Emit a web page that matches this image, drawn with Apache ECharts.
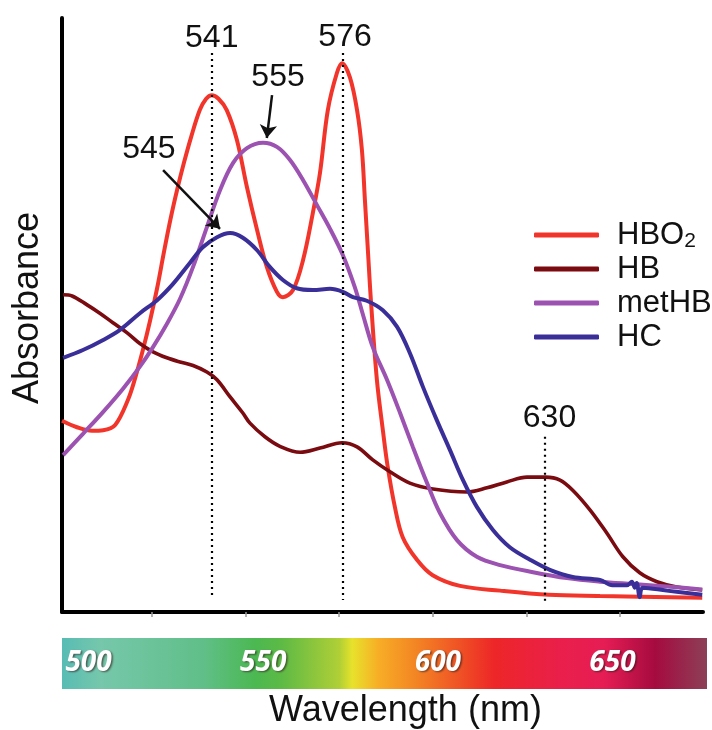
<!DOCTYPE html>
<html>
<head>
<meta charset="utf-8">
<title>Hemoglobin absorbance spectra</title>
<script src="https://cdn.jsdelivr.net/npm/echarts@6/dist/echarts.min.js"></script>
<style>
  html, body { margin: 0; padding: 0; background: #fff; }
  #chart { width: 712px; height: 730px; }
</style>
</head>
<body>
<div id="chart"></div>
<script>
// Absorbance spectra, [wavelength nm, relative absorbance]
const hbo2 = [
  [501,0.322],[505,0.311],[509,0.305],[512,0.306],[515.2,0.315],[518.6,0.357],[520.5,0.393],
  [522.6,0.441],[524.5,0.490],[526.4,0.545],[528.2,0.605],[530,0.662],[531.8,0.712],[533.6,0.757],
  [535.5,0.800],[537.8,0.845],[539.5,0.864],[541,0.870],[542.8,0.864],[545,0.845],[547.7,0.795],
  [550.4,0.715],[553.1,0.643],[555.7,0.581],[558.4,0.539],[560,0.530],[562.7,0.542],[565.4,0.593],
  [568,0.672],[569.9,0.739],[572,0.845],[574.4,0.907],[575.8,0.924],[577.9,0.900],[579.8,0.845],
  [581.1,0.778],[581.9,0.694],[582.7,0.609],[583.5,0.525],[585.1,0.391],[586.7,0.306],[588,0.244],
  [589.9,0.177],[592,0.126],[595.8,0.088],[600,0.062],[607.3,0.044],[618,0.036],[631,0.029],
  [644.7,0.027],[672,0.024]
];
const hb = [
  [501.3,0.534],[503.7,0.532],[507.7,0.517],[511.1,0.503],[514.6,0.487],[518.4,0.470],[521.8,0.452],
  [525.3,0.438],[529,0.428],[532.5,0.421],[536,0.415],[539.7,0.404],[542.4,0.391],[545.9,0.362],
  [549.3,0.335],[551.2,0.318],[555.2,0.295],[559.2,0.279],[564.6,0.269],[569.9,0.276],[575.8,0.285],
  [579.8,0.278],[584,0.256],[588.6,0.236],[593.9,0.217],[600.1,0.207],[609.1,0.202],[614.5,0.209],
  [619.8,0.219],[625.2,0.227],[630.2,0.227],[634,0.222],[637.4,0.205],[642,0.172],[646.5,0.133],
  [650.8,0.093],[655.3,0.066],[659.9,0.051],[665.2,0.042],[672,0.037]
];
const methb = [
  [501.3,0.264],[506.6,0.300],[512,0.337],[517.3,0.376],[521.8,0.413],[525.3,0.446],[529,0.485],
  [532.5,0.527],[536,0.581],[539.7,0.648],[543.2,0.710],[546.7,0.756],[550.4,0.781],[554.7,0.790],
  [558.4,0.783],[561.9,0.761],[565.4,0.727],[569.1,0.685],[572.6,0.645],[576,0.601],[579.2,0.547],
  [581.4,0.500],[584,0.446],[587.8,0.391],[591.3,0.335],[594.7,0.278],[598.5,0.217],[601.9,0.167],
  [606.5,0.121],[611.8,0.093],[618,0.079],[626.8,0.067],[635.8,0.057],[644.7,0.051],[653.5,0.047],
  [662.5,0.043],[672,0.038]
];
const hc = [
  [501.3,0.428],[506.6,0.441],[512,0.458],[516.5,0.475],[521.8,0.503],[526.4,0.525],[530.6,0.552],
  [535.2,0.588],[538.6,0.614],[542.4,0.631],[545.9,0.638],[549.3,0.630],[553.1,0.609],[556.5,0.581],
  [560,0.559],[563.7,0.545],[568,0.542],[572.6,0.544],[576,0.539],[578.7,0.530],[582.4,0.524],
  [586.7,0.508],[590.5,0.480],[593.9,0.436],[597.4,0.379],[601.1,0.323],[604.6,0.273],[608.1,0.222],
  [611.8,0.177],[616.1,0.138],[620.6,0.109],[626,0.088],[631.3,0.071],[637.4,0.059],[644.7,0.054],
  [648,0.045],[651.9,0.045],[653.2,0.051],[654,0.041],[654.5,0.049],[655.3,0.025],[656.1,0.041],
  [662.5,0.036],[672,0.029]
];

// Characteristic peaks marked with dotted drop lines: [wavelength, top, bottom]
const peakLines = [[541, 0.941, 0.025], [576, 0.941, 0.020], [630, 0.295, 0.015]];
// Peak labels: [text, wavelength, absorbance]
const peakLabels = [
  ['541', 541, 0.9655], ['576', 576.6, 0.967], ['555', 558.7, 0.900],
  ['545', 524.2, 0.779], ['630', 631.2, 0.327]
];
// Pointer arrows: [[from λ, from A], [to λ, to A]]
const arrows = [
  [[557.1, 0.870], [555.7, 0.798]],
  [[528.0, 0.744], [543.2, 0.645]]
];

const seriesNames = ['HBO2', 'HB', 'metHB', 'HC'];
const seriesColors = ['#f2352b', '#7a0b10', '#9c52b1', '#3a2f98'];
const seriesData = [hbo2, hb, methb, hc];

// Wavelength colour strip
const stripTicks = [500, 550, 600, 650];
const minorTicks = [525, 550, 575, 600, 625, 650];
const stripStops = [
  [0.00, '#57bcb4'], [0.06, '#76c7ab'], [0.22, '#60bf88'], [0.30, '#4bb851'],
  [0.34, '#5dba45'], [0.43, '#b0cf36'], [0.45, '#e7e22b'], [0.49, '#f7ae26'],
  [0.55, '#f38424'], [0.62, '#ef4f25'], [0.67, '#ed2628'], [0.77, '#ea1f4a'],
  [0.84, '#e61d55'], [0.92, '#a50b3f'], [1.00, '#8c4058']
];

const FONT = '"Liberation Sans", Arial, Helvetica, sans-serif';

const chart = echarts.init(document.getElementById('chart'), null, { renderer: 'canvas' });

const lineSeries = seriesNames.map((name, i) => ({
  name: name,
  type: 'line',
  xAxisIndex: 0,
  yAxisIndex: 0,
  data: seriesData[i],
  showSymbol: false,
  smooth: 0.35,
  color: seriesColors[i],
  lineStyle: { width: i === 1 ? 3.6 : 4, color: seriesColors[i] },
  z: 3
}));

const annotationSeries = [
  {
    name: 'peak-lines',
    type: 'line',
    data: [],
    xAxisIndex: 0,
    yAxisIndex: 0,
    markLine: {
      silent: true,
      symbol: ['none', 'none'],
      label: { show: false },
      lineStyle: { color: '#000', width: 2.2, type: [2, 4] },
      data: peakLines.map(p => [{ coord: [p[0], p[1]] }, { coord: [p[0], p[2]] }])
    },
    z: 2
  },
  {
    name: 'peak-arrows',
    type: 'line',
    data: [],
    xAxisIndex: 0,
    yAxisIndex: 0,
    markLine: {
      silent: true,
      symbol: ['none', 'arrow'],
      symbolSize: 13,
      label: { show: false },
      lineStyle: { color: '#111', width: 2.5, type: 'solid' },
      data: arrows.map(a => [{ coord: a[0] }, { coord: a[1] }])
    },
    z: 5
  },
  {
    name: 'peak-labels',
    type: 'line',
    data: [],
    xAxisIndex: 0,
    yAxisIndex: 0,
    markPoint: {
      silent: true,
      symbol: 'circle',
      symbolSize: 1,
      itemStyle: { color: 'rgba(0,0,0,0)' },
      label: {
        show: true,
        position: 'inside',
        formatter: p => p.name,
        fontSize: 32,
        fontFamily: FONT,
        color: '#111'
      },
      data: peakLabels.map(l => ({ name: l[0], coord: [l[1], l[2]] }))
    },
    z: 6
  }
];

const option = {
  animation: false,
  backgroundColor: '#ffffff',
  grid: [
    { left: 62, right: 9, top: 18, bottom: 118 },
    {
      left: 62, right: 5, top: 638, height: 51,
      show: true, borderWidth: 0,
      backgroundColor: new echarts.graphic.LinearGradient(0, 0, 1, 0,
        stripStops.map(s => ({ offset: s[0], color: s[1] })))
    }
  ],
  xAxis: [
    {
      type: 'value', gridIndex: 0, min: 501, max: 672.2,
      axisLine: { show: true, lineStyle: { color: '#000', width: 4 } },
      axisTick: { show: true, customValues: minorTicks, length: 5, lineStyle: { color: '#999', width: 1.5 } },
      axisLabel: { show: false },
      splitLine: { show: false }
    },
    {
      type: 'value', gridIndex: 1, min: 492.41, max: 677.05,
      axisLine: { show: false },
      axisTick: { show: false },
      splitLine: { show: false },
      axisLabel: {
        customValues: stripTicks,
        inside: true,
        margin: 26,
        verticalAlign: 'middle',
        color: '#ffffff',
        fontSize: 28,
        fontWeight: 'bold',
        fontStyle: 'italic',
        fontFamily: '"Open Sans", "Noto Sans", sans-serif',
        textShadowColor: 'rgba(40,20,20,0.6)',
        textShadowBlur: 2,
        textShadowOffsetX: 1.5,
        textShadowOffsetY: 1.5
      },
      name: 'Wavelength (nm)',
      nameLocation: 'middle',
      nameGap: 4,
      nameTextStyle: {
        fontSize: 36, fontFamily: FONT, color: '#111',
        verticalAlign: 'top', padding: [0, 0, 0, 42]
      }
    }
  ],
  yAxis: [
    {
      type: 'value', gridIndex: 0, min: 0, max: 1,
      axisLine: { show: true, lineStyle: { color: '#000', width: 4 } },
      axisTick: { show: false },
      axisLabel: { show: false },
      splitLine: { show: false },
      name: 'Absorbance',
      nameLocation: 'middle',
      nameRotate: 90,
      nameGap: 16,
      nameTextStyle: { fontSize: 36, fontFamily: FONT, color: '#111', padding: [0, 0, 0, 14] }
    },
    { type: 'value', gridIndex: 1, min: 0, max: 1, show: false }
  ],
  legend: {
    data: seriesNames,
    orient: 'vertical',
    left: 529,
    top: 213,
    itemWidth: 65,
    itemHeight: 5,
    itemGap: 0,
    icon: 'roundRect',
    selectedMode: false,
    formatter: name => (name === 'HBO2' ? 'HBO{sub|2}' : name),
    textStyle: {
      fontSize: 31,
      fontFamily: FONT,
      color: '#111',
      lineHeight: 34,
      padding: [0, 0, 0, 13],
      rich: {
        sub: { fontSize: 21, fontFamily: FONT, color: '#111', lineHeight: 8, verticalAlign: 'bottom' }
      }
    }
  },
  series: lineSeries.concat(annotationSeries)
};

chart.setOption(option);
</script>
</body>
</html>
